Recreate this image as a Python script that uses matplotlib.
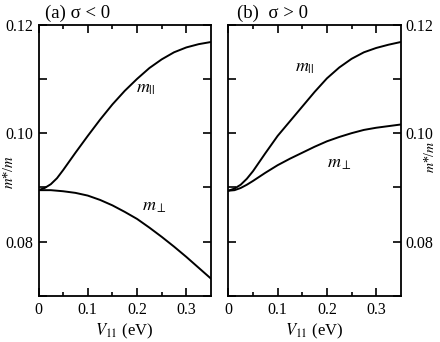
import numpy as np
import matplotlib
matplotlib.use("Agg")
from matplotlib import pyplot as plt

plt.rcParams['font.family'] = ['Liberation Serif', 'DejaVu Serif']
plt.rcParams['mathtext.fontset'] = 'stix'

# V11 (eV) grid
v11 = [0, 0.0125, 0.025, 0.0375, 0.05, 0.075, 0.1, 0.125, 0.15, 0.175, 0.2,
       0.225, 0.25, 0.275, 0.3, 0.325, 0.35]

# (a) sigma < 0
par_a = [0.0895, 0.0899, 0.0906, 0.0917, 0.0932, 0.0964, 0.0995, 0.1025, 0.1053,
         0.1078, 0.1100, 0.1120, 0.1136, 0.1149, 0.1158, 0.1164, 0.1168]
perp_a = [0.0895, 0.0895, 0.0895, 0.0894, 0.0893, 0.0890, 0.0885, 0.0877, 0.0867,
          0.0855, 0.0842, 0.0826, 0.0809, 0.0791, 0.0772, 0.0752, 0.0732]

# (b) sigma > 0
par_b = [0.0894, 0.0898, 0.0905, 0.0916, 0.0930, 0.0963, 0.0995, 0.1022, 0.1049,
         0.1076, 0.1101, 0.1121, 0.1137, 0.1149, 0.1157, 0.1163, 0.1168]
perp_b = [0.0894, 0.0895, 0.0899, 0.0905, 0.0912, 0.0927, 0.0941, 0.0953, 0.0964,
          0.0975, 0.0985, 0.0993, 0.1000, 0.1006, 0.1010, 0.1013, 0.1016]

xticks = [0, 0.1, 0.2, 0.3]
xticklabels = ['0', '0.1', '0.2', '0.3']
yticks = [0.07, 0.08, 0.09, 0.10, 0.11, 0.12]
yticklabels = ['', '0.08', '', '0.10', '', '0.12']

fig = plt.figure(figsize=(4.4, 3.42), dpi=100)
axA = fig.add_axes([0.0875, 0.1345, 0.392, 0.7935])
axB = fig.add_axes([0.519, 0.1345, 0.392, 0.7935])


def style(ax, right):
    ax.set_xlim(0, 0.35)
    ax.set_ylim(0.07, 0.12)
    ax.set_xticks(xticks)
    ax.set_xticklabels(xticklabels)
    ax.set_xticks([0.05, 0.15, 0.25], minor=True)
    ax.set_yticks(yticks)
    ax.set_yticklabels(yticklabels)
    ax.tick_params(which='both', direction='in', top=True, right=True,
                   labelsize=11.5, width=1.2, pad=4)
    ax.tick_params(which='major', length=6)
    ax.tick_params(which='minor', length=3)
    if right:
        ax.tick_params(axis='y', labelleft=False, labelright=True, pad=3)
        ax.yaxis.set_label_position('right')
    for s in ax.spines.values():
        s.set_linewidth(1.3)
    ax.set_xlabel(r'$V_{11}$ (eV)', fontsize=12, labelpad=3)
    ax.set_ylabel(r'$m$*/$m$', fontsize=10.5)


style(axA, False)
axA.yaxis.set_label_coords(-0.13, 0.457)
axA.plot(v11, par_a, color='black', lw=1.4)
axA.plot(v11, perp_a, color='black', lw=1.4)
axA.text(0.198, 0.1074, r'$m_{||}$', fontsize=13)
axA.text(0.21, 0.0857, r'$m_{\perp}$', fontsize=13)
axA.text(0.038, 1.01, '(a) σ < 0', transform=axA.transAxes, fontsize=13.5, va='bottom')

style(axB, True)
axB.yaxis.set_label_coords(1.13, 0.515)
axB.yaxis.label.set_fontsize(10)
axB.plot(v11, par_b, color='black', lw=1.4)
axB.plot(v11, perp_b, color='black', lw=1.4)
axB.text(0.135, 0.1114, r'$m_{||}$', fontsize=13)
axB.text(0.2, 0.0937, r'$m_{\perp}$', fontsize=13)
axB.text(0.05, 1.01, '(b)  σ > 0', transform=axB.transAxes, fontsize=13.5, va='bottom')

fig.savefig('out.png', dpi=100)
